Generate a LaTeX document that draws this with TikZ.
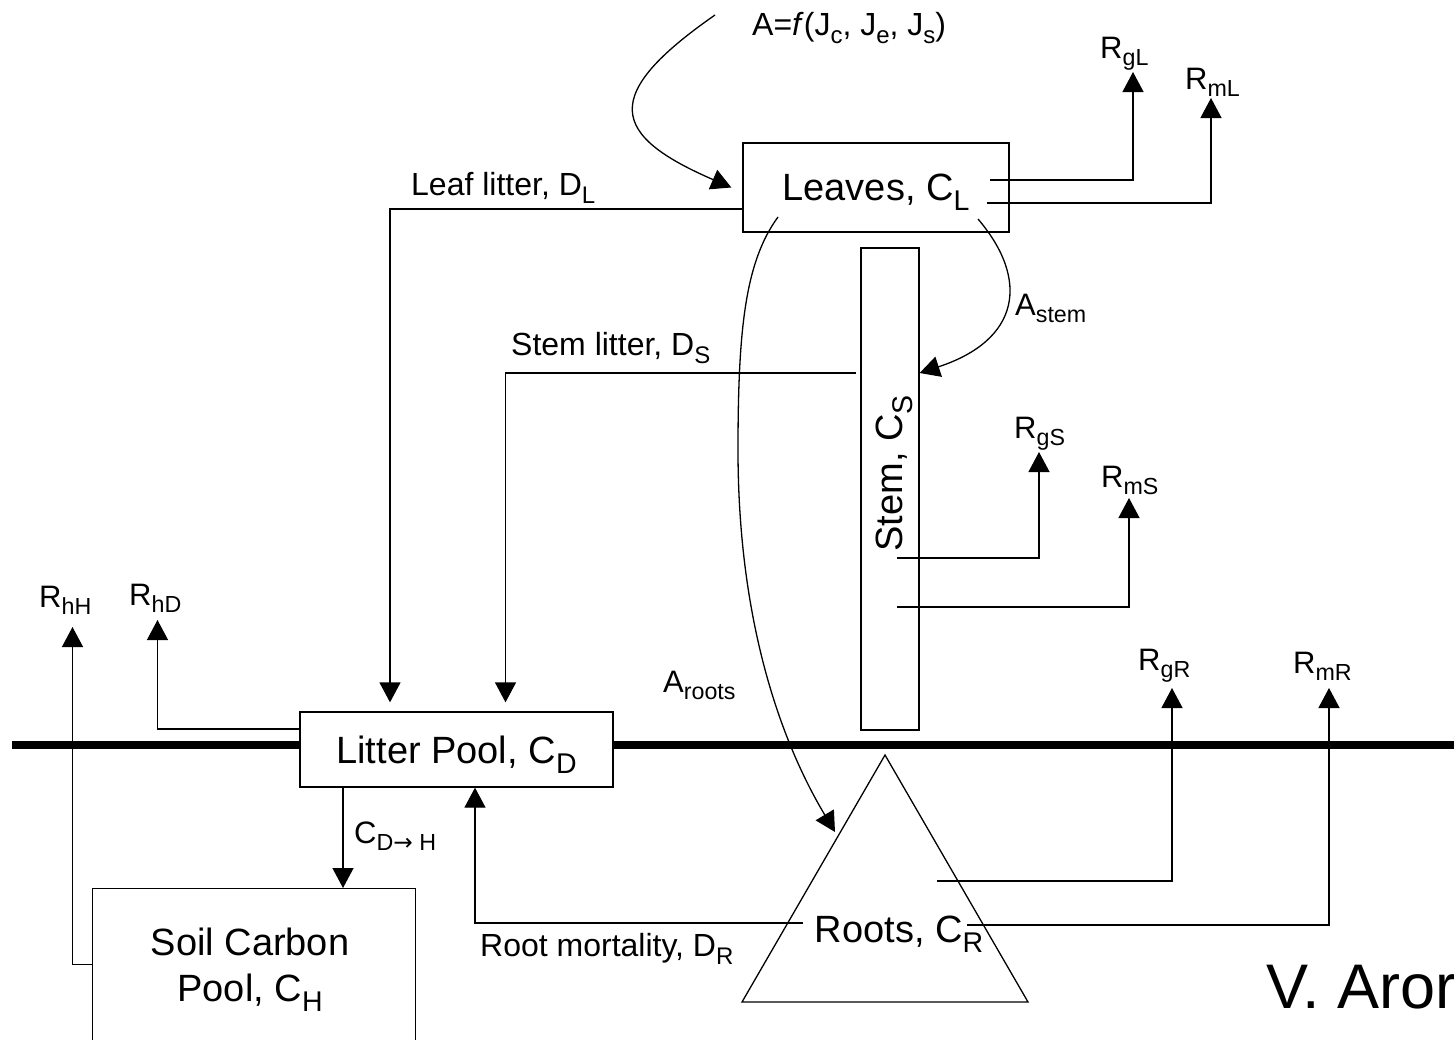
\documentclass[tikz,border=0pt]{standalone}
\usepackage{fontspec}
\setmainfont{Liberation Sans}
\newfontfamily\symfont{DejaVu Sans}
\usetikzlibrary{arrows.meta}
\newcommand\sbs[1]{\raisebox{-0.25em}{\scalebox{0.75}{#1}}}
\begin{document}
\begin{tikzpicture}[x=1pt,y=-1pt,
  box/.style={draw, line width=1.3pt, fill=white, inner sep=0pt},
  bigtxt/.style={font=\fontsize{38}{46}\selectfont, inner sep=0pt, text depth=0pt},
  lab/.style={font=\fontsize{32}{38}\selectfont, inner sep=0pt, anchor=base west},
  rlab/.style={font=\fontsize{31}{36}\selectfont, inner sep=0pt, anchor=base west},
  conn/.style={line width=1.3pt},
  flow/.style={line width=1.3pt, -{Triangle[length=20pt,width=21pt]}},
]
\useasboundingbox (0,0) rectangle (1454,1039);
\clip (0,0) rectangle (1454,1039);
\fill[white] (0,0) rectangle (1454,1039);

% ground line
\coordinate (gL) at (12,745);
\coordinate (gR) at (1454,745);
\draw[line width=7.5pt] (gL) -- (gR);

% compartments
\node[box, minimum width=266pt, minimum height=89pt] (leaves) at (876,187.5) {};
\node[box, minimum width=58pt, minimum height=482pt] (stem) at (890,489) {};
\node[box, minimum width=313pt, minimum height=75pt] (litter) at (456.5,749.5) {};
\node[box, minimum width=323pt, minimum height=170pt, anchor=north west] (soil) at (92,888) {};
\coordinate (tA) at (885,755);
\coordinate (tL) at (742,1002);
\coordinate (tR) at (1028,1002);
\draw[conn, fill=white] (tA) -- (tL) -- (tR) -- cycle;

% compartment texts
\node[bigtxt] (leavestxt) at (876,187.5) {Leaves, C\sbs{L}};
\node[bigtxt, rotate=90] (stemtxt) at (889.5,473.5) {Stem, C\sbs{S}};
\node[bigtxt] (littertxt) at (456.5,750) {Litter Pool, C\sbs{D}};
\node[bigtxt] (rootstxt) at (899,929.4) {Roots, C\sbs{R}};
\node[bigtxt, align=center] (soiltxt) at (250,965) {Soil Carbon\\Pool, C\sbs{H}};

% flow labels
\node[rlab, font=\fontsize{32}{38}\selectfont] (afun) at (752,35) {A=\textit{f}(J\sbs{c}, J\sbs{e}, J\sbs{s})};
\node[lab] (leaflitter) at (411,195) {Leaf litter, D\sbs{L}};
\node[lab] (stemlitter) at (511,355) {Stem litter, D\sbs{S}};
\node[lab] (rootmort) at (480,956) {Root mortality, D\sbs{R}};
\node[rlab] (astem) at (1015,315) {A\sbs{stem}};
\node[rlab] (aroots) at (663,692) {A\sbs{roots}};
\node[rlab] (cdh) at (354,843) {C\sbs{D{\symfont →} H}};
\node[rlab] (RgL) at (1100,58) {R\sbs{gL}};
\node[rlab] (RmL) at (1185,89) {R\sbs{mL}};
\node[rlab] (RgS) at (1014,438) {R\sbs{gS}};
\node[rlab] (RmS) at (1101,487) {R\sbs{mS}};
\node[rlab] (RgR) at (1138,670) {R\sbs{gR}};
\node[rlab] (RmR) at (1293,673) {R\sbs{mR}};
\node[rlab] (RhD) at (129,605) {R\sbs{hD}};
\node[rlab] (RhH) at (39,607) {R\sbs{hH}};

% photosynthesis into leaves
\coordinate (aS) at (715,15);
\draw[flow] (aS) .. controls (600,95) and (610,135) .. ([xshift=-11pt]leaves.west);

% allocation to stem
\coordinate (asS) at (978,219);
\draw[flow] (asS) .. controls (1030,280) and (1020,340) .. ([yshift=116pt]stem.east);

% allocation to roots
\coordinate (arS) at (778,217);
\coordinate (arM) at (738,450);
\coordinate (arE) at (835,832);
\draw[flow] (arS) .. controls (745,262) and (738,330) .. (arM) .. controls (738,620) and (780,740) .. (arE);

% litter fluxes
\draw[flow, shorten >=9pt] ([yshift=-21.5pt]leaves.west) -| ([xshift=-66.5pt]litter.north);
\draw[flow, shorten >=9pt] ([xshift=-4pt,yshift=116pt]stem.west) -| ([xshift=49pt]litter.north);
\coordinate (rmS) at (803,923);
\draw[flow] (rmS) -| ([xshift=18.5pt]litter.south);
\draw[flow] ([xshift=-113.5pt]litter.south) -- ([xshift=-113.5pt]litter.south |- soil.north);

% heterotrophic respiration
\coordinate (tHD) at (157.5,620);
\coordinate (tHH) at (72.5,627);
\draw[flow] ([yshift=20.5pt]litter.west) -| (tHD);
\draw[flow] ([yshift=9pt]soil.west) -| (tHH);

% autotrophic respiration
\coordinate (sgL) at (990,180);  \coordinate (tgL) at (1133,72);
\coordinate (smL) at (987,203);  \coordinate (tmL) at (1211,98);
\coordinate (sgS) at (897,558);  \coordinate (tgS) at (1039,452);
\coordinate (smS) at (897,607);  \coordinate (tmS) at (1129,498);
\coordinate (sgR) at (937,881);  \coordinate (tgR) at (1172,688);
\coordinate (smR) at (967,925);  \coordinate (tmR) at (1329,688);
\draw[flow] (sgL) -| (tgL);
\draw[flow] (smL) -| (tmL);
\draw[flow] (sgS) -| (tgS);
\draw[flow] (smS) -| (tmS);
\draw[flow] (sgR) -| (tgR);
\draw[flow] (smR) -| (tmR);

% credit
\node[font=\fontsize{63}{72}\selectfont, anchor=base west, inner sep=0pt] (credit) at (1266,1008) {V. Aror};
\end{tikzpicture}
\end{document}
